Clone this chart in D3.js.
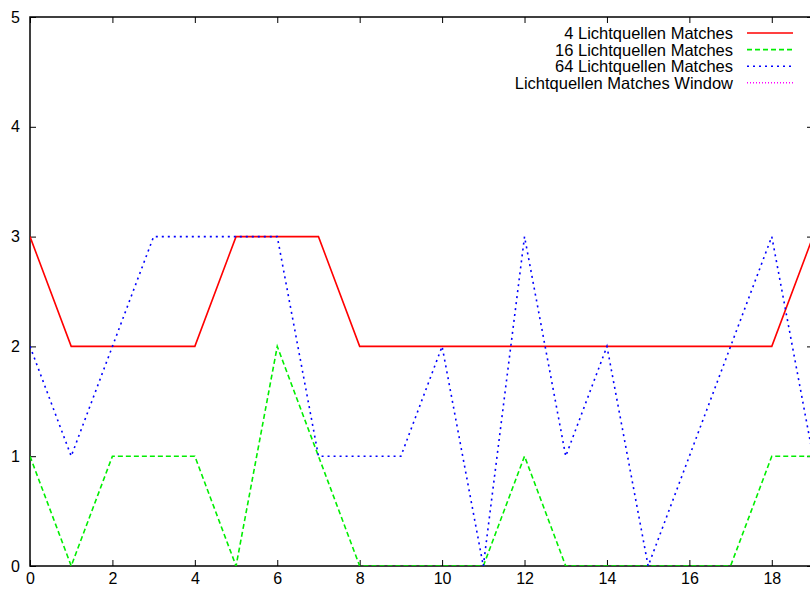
<!DOCTYPE html>
<html>
<head>
<meta charset="utf-8">
<script src="https://cdn.jsdelivr.net/npm/d3@7"></script>
<style>
  body { margin: 0; background: #fff; }
  text { font-family: "Liberation Sans", Arial, sans-serif; }
</style>
</head>
<body>
<div id="chart-area"></div>
<script>
// data
const xValues = d3.range(0, 20)
const matches4 = [3, 2, 2, 2, 2, 3, 3, 3, 2, 2, 2, 2, 2, 2, 2, 2, 2, 2, 2, 3]
const matches16 = [1, 0, 1, 1, 1, 0, 2, 1, 0, 0, 0, 0, 1, 0, 0, 0, 0, 0, 1, 1]
const matches64 = [2, 1, 2, 3, 3, 3, 3, 1, 1, 1, 2, 0, 3, 1, 2, 0, 1, 2, 3, 1]
const seriesNames = ["4 Lichtquellen Matches", "16 Lichtquellen Matches", "64 Lichtquellen Matches", "Lichtquellen Matches Window"]
const xTicks = [0, 2, 4, 6, 8, 10, 12, 14, 16, 18]
const yTicks = [0, 1, 2, 3, 4, 5]

const svgWidth = 810
const svgHeight = 592
const margin = { left: 30, right: -3, top: 17, bottom: 26 }
const chartWidth = svgWidth - margin.left - margin.right
const chartHeight = svgHeight - margin.top - margin.bottom

const svg = d3.select("#chart-area")
  .append("svg")
  .attr("width", svgWidth)
  .attr("height", svgHeight)

const chart = svg.append("g")
  .attr("transform", `translate(${margin.left},${margin.top})`)

const xScale = d3.scaleLinear().domain([0, 19]).range([0, chartWidth])
const yScale = d3.scaleLinear().domain([0, 5]).range([chartHeight, 0])

// ticks on all four sides, pointing inward
const tickLen = 6
const fmt = d3.format("d")
const axisStyle = g => {
  g.select(".domain").remove()
  g.selectAll(".tick line").attr("stroke", "#000")
  g.selectAll(".tick text").attr("fill", "#000").style("font-size", "16px")
}

chart.append("g")
  .attr("transform", `translate(0,${chartHeight})`)
  .call(d3.axisBottom(xScale).tickValues(xTicks).tickFormat(fmt).tickSizeInner(-tickLen).tickPadding(7))
  .call(axisStyle)

chart.append("g")
  .call(d3.axisTop(xScale).tickValues(xTicks).tickSizeInner(-tickLen).tickFormat(""))
  .call(axisStyle)

chart.append("g")
  .call(d3.axisLeft(yScale).tickValues(yTicks).tickFormat(fmt).tickSizeInner(-tickLen).tickPadding(10))
  .call(axisStyle)

chart.append("g")
  .attr("transform", `translate(${chartWidth},0)`)
  .call(d3.axisRight(yScale).tickValues(yTicks).tickSizeInner(-tickLen).tickFormat(""))
  .call(axisStyle)

chart.append("rect")
  .attr("width", chartWidth)
  .attr("height", chartHeight)
  .attr("fill", "none")
  .attr("stroke", "#000")
  .attr("stroke-width", 1.5)

chart.append("clipPath").attr("id", "clip")
  .append("rect").attr("width", chartWidth).attr("height", chartHeight)

const series = [
  { name: seriesNames[0], values: matches4, color: "#ff0000", dash: null },
  { name: seriesNames[1], values: matches16, color: "#00ee00", dash: "5,3" },
  { name: seriesNames[2], values: matches64, color: "#0000ff", dash: "2,4" },
  { name: seriesNames[3], values: [], color: "#ff00ff", dash: "1,2" }
]

const lineGenerator = d3.line()
  .x((d, i) => xScale(xValues[i]))
  .y(d => yScale(d))

chart.append("g").attr("clip-path", "url(#clip)")
  .selectAll("path")
  .data(series.filter(s => s.values.length))
  .join("path")
  .attr("d", s => lineGenerator(s.values))
  .attr("fill", "none")
  .attr("stroke", s => s.color)
  .attr("stroke-width", 1.6)
  .attr("stroke-dasharray", s => s.dash)

// legend
const legend = svg.append("g")
  .attr("transform", "translate(0,33)")

const rows = legend.selectAll("g")
  .data(series)
  .join("g")
  .attr("transform", (d, i) => `translate(0,${i * 16.6})`)

rows.append("text")
  .attr("x", 733)
  .attr("y", 6)
  .attr("text-anchor", "end")
  .style("font-size", "16.5px")
  .text(d => d.name)

rows.append("line")
  .attr("x1", 747)
  .attr("x2", 793)
  .attr("stroke", d => d.color)
  .attr("stroke-width", 1.6)
  .attr("stroke-dasharray", d => d.dash)
</script>
</body>
</html>
